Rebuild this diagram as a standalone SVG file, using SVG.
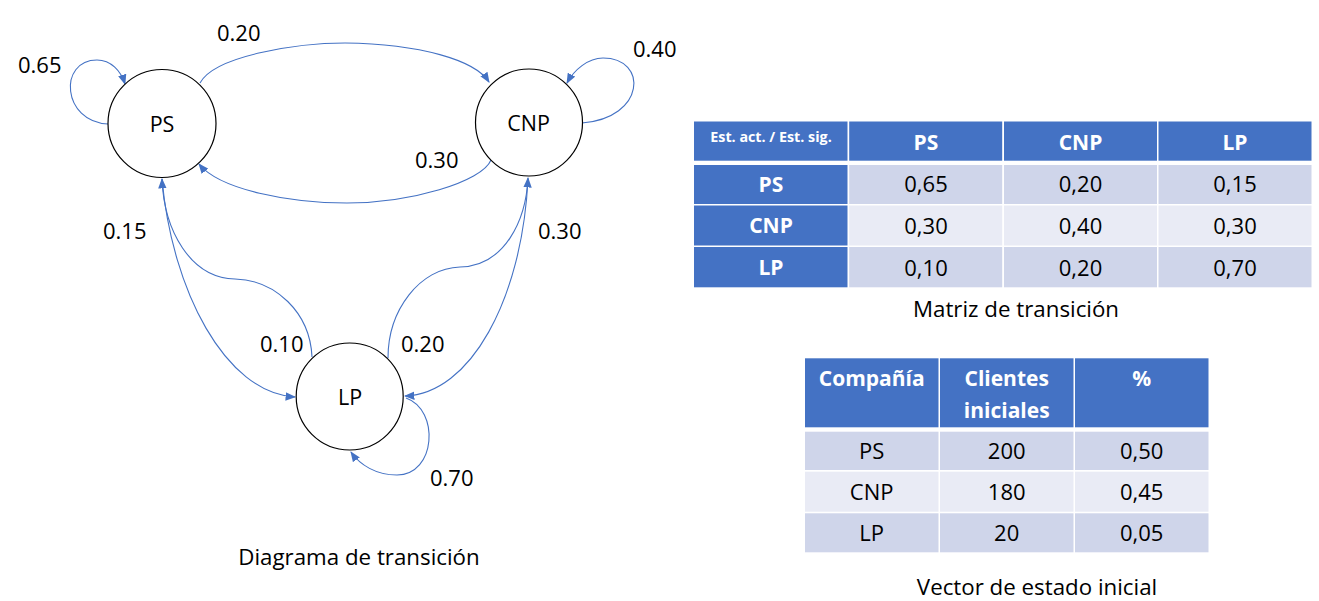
<svg xmlns="http://www.w3.org/2000/svg" width="1319" height="601" viewBox="0 0 1319 601">
<style>
.node circle{fill:#fff;stroke:#000;stroke-width:1.2}
.nl{font-family:"Open Sans","DejaVu Sans",sans-serif;font-size:21.5px;fill:#000;text-anchor:middle}
.el{font-family:"Open Sans","DejaVu Sans",sans-serif;font-size:22px;fill:#000}
.cap{font-family:"Open Sans","DejaVu Sans",sans-serif;font-size:22.3px;fill:#000;text-anchor:middle}
.conn path{fill:none;stroke:#4472C4;stroke-width:1.1;marker-end:url(#ah)}
.hd{fill:#4472C4}
.r1{fill:#CFD5EA}
.r2{fill:#E9EBF5}
.th{font-family:"Open Sans","DejaVu Sans",sans-serif;font-weight:bold;font-size:21px;fill:#fff;text-anchor:middle}
.td{font-family:"Open Sans","DejaVu Sans",sans-serif;font-size:22px;fill:#000;text-anchor:middle}
.ths{font-family:"Open Sans","DejaVu Sans",sans-serif;font-weight:bold;font-size:14.3px;fill:#fff;text-anchor:middle}
</style>
<defs>
<marker id="ah" viewBox="0 0 10 8" refX="9" refY="4" markerWidth="10.5" markerHeight="8.5" orient="auto" markerUnits="userSpaceOnUse">
<path d="M0,0 L10,4 L0,8 z" fill="#4472C4"/>
</marker>
</defs>
<rect width="1319" height="601" fill="#fff"/>

<g id="connectors" class="conn">
<path d="M108,124 C62,122 58,60 97,60 C111,60 121,71 125,84"/>
<path d="M200,83 C215,55 300,43 345,43 C420,44 475,60 489,82"/>
<path d="M491,160 C482,182 410,203 347,203 C290,203 220,190 199,164"/>
<path d="M312,357 C310,312 275,280 235,279 C190,278 164,230 162,179"/>
<path d="M162,179 C172,290 225,393 295,397"/>
<path d="M528,179 C522,300 470,394 405,396"/>
<path d="M388,358 C388,310 420,268 460,267 C505,266 526,220 528,178"/>
<path d="M406,398 C440,410 436,475 397,475 C376,475 360,465 351,452"/>
<path d="M582,123 C646,118 648,58 603,58 C588,58 574,70 567,83"/>
</g>

<g id="node-PS" class="node"><circle cx="162" cy="123.5" r="54"/><text class="nl" x="162" y="132">PS</text></g>
<g id="node-CNP" class="node"><circle cx="529" cy="122.5" r="53.5"/><text class="nl" x="528.5" y="131">CNP</text></g>
<g id="node-LP" class="node"><circle cx="349.7" cy="396.5" r="53.5"/><text class="nl" x="350" y="405">LP</text></g>

<g id="edge-labels">
<text class="el" x="18" y="73">0.65</text>
<text class="el" x="217" y="41">0.20</text>
<text class="el" x="633" y="57">0.40</text>
<text class="el" x="415" y="168">0.30</text>
<text class="el" x="103" y="239">0.15</text>
<text class="el" x="538" y="239">0.30</text>
<text class="el" x="260" y="352">0.10</text>
<text class="el" x="401" y="352">0.20</text>
<text class="el" x="430" y="486">0.70</text>
</g>

<text class="cap" x="359" y="565">Diagrama de transición</text>

<g id="matriz">
<rect class="hd" x="694" y="121.5" width="153.5" height="39.2"/>
<rect class="hd" x="849.2" y="121.5" width="153" height="39.2"/>
<rect class="hd" x="1004" y="121.5" width="153" height="39.2"/>
<rect class="hd" x="1158.5" y="121.5" width="153" height="39.2"/>
<rect class="hd" x="694" y="165" width="153.5" height="39"/>
<rect class="r1" x="849.2" y="165" width="153" height="39"/>
<rect class="r1" x="1004" y="165" width="153" height="39"/>
<rect class="r1" x="1158.5" y="165" width="153" height="39"/>
<rect class="hd" x="694" y="205.5" width="153.5" height="40"/>
<rect class="r2" x="849.2" y="205.5" width="153" height="40"/>
<rect class="r2" x="1004" y="205.5" width="153" height="40"/>
<rect class="r2" x="1158.5" y="205.5" width="153" height="40"/>
<rect class="hd" x="694" y="247" width="153.5" height="40.3"/>
<rect class="r1" x="849.2" y="247" width="153" height="40.3"/>
<rect class="r1" x="1004" y="247" width="153" height="40.3"/>
<rect class="r1" x="1158.5" y="247" width="153" height="40.3"/>
<text class="ths" x="771" y="141.5">Est. act. / Est. sig.</text>
<text class="th" x="926" y="150">PS</text>
<text class="th" x="1080.5" y="150">CNP</text>
<text class="th" x="1235" y="150">LP</text>
<text class="th" x="771" y="191.5">PS</text>
<text class="th" x="771" y="233">CNP</text>
<text class="th" x="771" y="275">LP</text>
<text class="td" x="926" y="191.7">0,65</text>
<text class="td" x="1080.5" y="191.7">0,20</text>
<text class="td" x="1235" y="191.7">0,15</text>
<text class="td" x="926" y="233.5">0,30</text>
<text class="td" x="1080.5" y="233.5">0,40</text>
<text class="td" x="1235" y="233.5">0,30</text>
<text class="td" x="926" y="275.5">0,10</text>
<text class="td" x="1080.5" y="275.5">0,20</text>
<text class="td" x="1235" y="275.5">0,70</text>
</g>
<text class="cap" x="1016" y="317">Matriz de transición</text>

<g id="vector">
<rect class="hd" x="805" y="358.3" width="133.5" height="69"/>
<rect class="hd" x="940" y="358.3" width="133.5" height="69"/>
<rect class="hd" x="1075" y="358.3" width="133.5" height="69"/>
<rect class="r1" x="805" y="431.7" width="133.5" height="38.3"/>
<rect class="r1" x="940" y="431.7" width="133.5" height="38.3"/>
<rect class="r1" x="1075" y="431.7" width="133.5" height="38.3"/>
<rect class="r2" x="805" y="471.7" width="133.5" height="40"/>
<rect class="r2" x="940" y="471.7" width="133.5" height="40"/>
<rect class="r2" x="1075" y="471.7" width="133.5" height="40"/>
<rect class="r1" x="805" y="513.3" width="133.5" height="39"/>
<rect class="r1" x="940" y="513.3" width="133.5" height="39"/>
<rect class="r1" x="1075" y="513.3" width="133.5" height="39"/>
<text class="th" x="871.7" y="385.5">Compañía</text>
<text class="th" x="1006.7" y="385.5">Clientes</text>
<text class="th" x="1006.7" y="418">iniciales</text>
<text class="th" x="1141.7" y="385.5">%</text>
<text class="td" x="871.7" y="459">PS</text>
<text class="td" x="1006.7" y="459">200</text>
<text class="td" x="1141.7" y="459">0,50</text>
<text class="td" x="871.7" y="500">CNP</text>
<text class="td" x="1006.7" y="500">180</text>
<text class="td" x="1141.7" y="500">0,45</text>
<text class="td" x="871.7" y="541">LP</text>
<text class="td" x="1006.7" y="541">20</text>
<text class="td" x="1141.7" y="541">0,05</text>
</g>
<text class="cap" x="1037" y="595">Vector de estado inicial</text>
</svg>
